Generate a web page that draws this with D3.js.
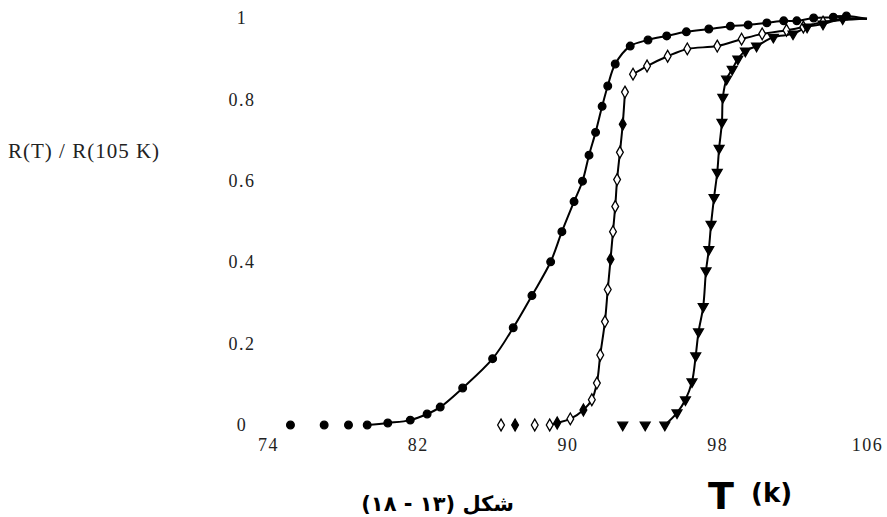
<!DOCTYPE html>
<html>
<head>
<meta charset="utf-8">
<script src="https://cdn.jsdelivr.net/npm/d3@7"></script>
<style>
  body { margin: 0; background: #fff; }
  .axis text { font-family: "Liberation Serif", "DejaVu Serif", serif; fill: #222; letter-spacing: 1.5px; }
</style>
</head>
<body>
<svg id="chart-svg" width="887" height="517"></svg>
<script>
// tick values
let xTicks = [74, 82, 90, 98, 106];
let yTicks = [0, 0.2, 0.4, 0.6, 0.8, 1];

// series A (left, filled dots)
let tempA = [75.2, 77.0, 78.3, 79.3, 80.4, 81.6, 82.5, 83.2, 84.4, 86.0, 87.1, 88.1, 89.1, 89.7, 90.35,
    90.8, 91.15, 91.5, 91.85, 92.15, 92.55, 93.35, 94.3, 95.3, 96.35, 97.55, 98.7, 99.65, 100.65,
    101.55, 102.25, 103.15, 104.2, 104.9, 106.0];
let resA = [0, 0, 0, 0, 0.005, 0.012, 0.027, 0.044, 0.091, 0.163, 0.239, 0.318, 0.401, 0.475, 0.549,
    0.599, 0.663, 0.719, 0.783, 0.833, 0.887, 0.931, 0.946, 0.956, 0.966, 0.973, 0.980, 0.983, 0.988,
    0.993, 0.993, 1.0, 1.002, 1.005, 0.998];
let lineStartA = 3;

// series B (middle, open diamonds), null = gap in the line
let tempB = [86.45, 87.2, 88.25, 89.05, 89.45, 90.15, 90.85, 91.3, 91.57, 91.75, 92.0, 92.15, 92.3, 92.43,
    92.55, 92.65, 92.8, 92.95, 93.07, null, 93.5, 94.25, 95.35, 96.4, 98.0, 99.3, 100.4, 101.7, 102.6,
    103.65, 106.0];
let resB = [0, 0, 0, 0, 0.005, 0.015, 0.037, 0.062, 0.103, 0.172, 0.254, 0.333, 0.407, 0.475,
    0.537, 0.603, 0.670, 0.739, 0.818, null, 0.862, 0.882, 0.906, 0.924, 0.931, 0.948, 0.961, 0.970, 0.978,
    0.990, 0.998];
let filledB = [1, 4, 6, 12, 17];
let lineStartB = 3;

// series C (right, filled triangles)
let tempC = [92.95, 94.15, 95.2, 95.85, 96.3, 96.65, 96.85, 97.0, 97.25, 97.4, 97.55, 97.67, 97.83,
    98.0, 98.1, 98.25, 98.3, 98.5, 98.8, 99.1, 99.5, 100.1, 101.0, 102.05, 102.8, 103.65, 104.7, 106.0];
let resC = [0, 0, 0, 0.030, 0.062, 0.106, 0.170, 0.229, 0.291, 0.379, 0.431, 0.493, 0.559,
    0.621, 0.680, 0.744, 0.805, 0.850, 0.874, 0.899, 0.919, 0.931, 0.953, 0.961, 0.978, 0.985, 0.998, 0.998];
let lineStartC = 2;

let svg = d3.select('#chart-svg');
let xScale = d3.scaleLinear().domain([74, 106]).range([268, 867]);
let yScale = d3.scaleLinear().domain([0, 1]).range([425, 18]);

// y axis: labels only
let yAxis = d3.axisLeft(yScale).tickValues(yTicks).tickSize(0).tickPadding(0)
    .tickFormat(d => String(d));
let yAxisG = svg.append('g')
    .attr('class', 'axis')
    .attr('transform', 'translate(242, 0)')
    .call(yAxis);
yAxisG.select('.domain').remove();
yAxisG.selectAll('text')
    .attr('text-anchor', 'middle')
    .attr('x', 0)
    .style('font-size', '18px');

// x axis: labels only
let xAxis = d3.axisBottom(xScale).tickValues(xTicks).tickSize(0).tickPadding(0);
let xAxisG = svg.append('g')
    .attr('class', 'axis')
    .attr('transform', 'translate(0, 438)')
    .call(xAxis);
xAxisG.select('.domain').remove();
xAxisG.selectAll('text').style('font-size', '18px');

// axis titles
svg.append('text')
    .attr('x', 8)
    .attr('y', 158)
    .style('font-family', '"Liberation Serif", serif')
    .style('font-size', '21px')
    .style('letter-spacing', '1px')
    .attr('fill', '#222')
    .text('R(T) / R(105 K)');

svg.append('text')
    .attr('x', 708)
    .attr('y', 509)
    .style('font-family', '"DejaVu Sans", sans-serif')
    .style('font-weight', 'bold')
    .style('font-size', '38px')
    .attr('fill', '#000')
    .text('T');
svg.append('text')
    .attr('x', 751)
    .attr('y', 502)
    .style('font-family', '"DejaVu Sans", sans-serif')
    .style('font-weight', 'bold')
    .style('font-size', '26px')
    .attr('fill', '#000')
    .text('(k)');

// caption at the bottom edge (right-to-left embedding)
svg.append('text')
    .attr('x', 514)
    .attr('y', 511)
    .attr('text-anchor', 'end')
    .style('font-family', '"DejaVu Sans", "Noto Sans", sans-serif')
    .style('font-weight', 'bold')
    .style('font-size', '21px')
    .attr('fill', '#000')
    .text('\u202Bشکل (۱۳ - ۱۸)\u202C');

function toPoints(temps, vals) {
    return temps.map((t, i) => ({t: t, v: vals[i], i: i}));
}

let line = d3.line()
    .defined(d => d.t !== null)
    .x(d => xScale(d.t))
    .y(d => yScale(d.v))
    .curve(d3.curveCatmullRom.alpha(0.5));

let series = [
    {pts: toPoints(tempA, resA), start: lineStartA, kind: 'A'},
    {pts: toPoints(tempB, resB), start: lineStartB, kind: 'B'},
    {pts: toPoints(tempC, resC), start: lineStartC, kind: 'C'}
];

let chartG = svg.append('g').attr('class', 'chartG');

series.forEach(s => {
    let linePts = s.pts.slice(s.start);
    chartG.append('path')
        .datum(linePts)
        .attr('fill', 'none')
        .attr('stroke', '#000')
        .attr('stroke-width', 2)
        .attr('d', line);
});

// markers
let symA = d3.symbol().type(d3.symbolCircle).size(46);
let symB = d3.symbol().type(d3.symbolDiamond).size(40);
let symC = d3.symbol().type(d3.symbolTriangle).size(42);

series.forEach(s => {
    let pts = s.pts.filter(d => d.t !== null);
    // line end carries no marker
    pts = pts.slice(0, pts.length - 1);
    chartG.selectAll('.mk' + s.kind)
        .data(pts)
        .enter()
        .append('path')
        .attr('class', 'mk' + s.kind)
        .attr('transform', d => {
            let r = s.kind === 'C' ? ' rotate(180)' : '';
            return `translate(${xScale(d.t)}, ${yScale(d.v)})${r}`;
        })
        .attr('d', s.kind === 'A' ? symA : (s.kind === 'B' ? symB : symC))
        .attr('fill', d => {
            if (s.kind === 'B') {
                return filledB.indexOf(d.i) >= 0 ? '#000' : '#fff';
            }
            return '#000';
        })
        .attr('stroke', '#000')
        .attr('stroke-width', 1.3);
});
</script>
</body>
</html>
